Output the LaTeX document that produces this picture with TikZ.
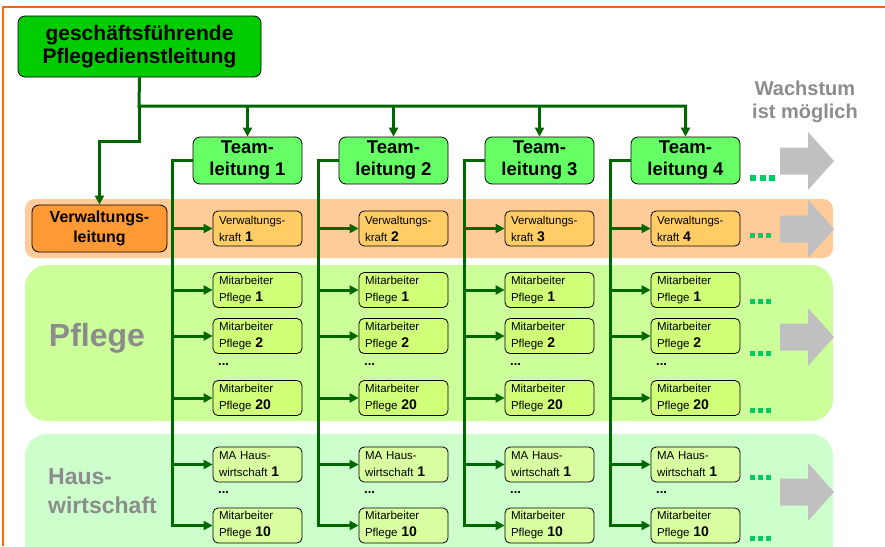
\documentclass[tikz,border=0pt]{standalone}
\usepackage{fontspec}
\setmainfont{Liberation Sans}
\usetikzlibrary{arrows.meta}

\definecolor{framecol}{RGB}{255,102,0}
\definecolor{darkline}{RGB}{0,102,0}
\definecolor{topgreen}{RGB}{0,204,0}
\definecolor{teamgreen}{RGB}{102,255,102}
\definecolor{vlorange}{RGB}{255,153,51}
\definecolor{vkorange}{RGB}{255,204,102}
\definecolor{bandorange}{RGB}{255,204,153}
\definecolor{bandpflege}{RGB}{204,255,153}
\definecolor{bandhaus}{RGB}{204,255,204}
\definecolor{pflegebox}{RGB}{208,255,120}
\definecolor{hausbox}{RGB}{216,255,160}
\definecolor{growgray}{RGB}{192,192,192}
\definecolor{labelgray}{RGB}{140,140,140}
\definecolor{dotgreen}{RGB}{0,204,102}

\newcommand{\bnum}[1]{{\fontsize{14}{17}\selectfont\bfseries #1}}

\begin{document}
\begin{tikzpicture}[x=1pt,y=-1pt]
        \tikzstyle{bigbox}=[draw=black,line width=0.8pt,rounded corners=7pt,align=center,inner sep=0pt]
        \tikzstyle{staffbox}=[draw=black,line width=0.8pt,rounded corners=5pt,align=left,text width=77pt,inner xsep=6pt,inner ysep=0pt,minimum height=35pt,font=\fontsize{11.5}{17}\selectfont]
        \tikzstyle{trunk}=[darkline,line width=3pt,-{Triangle[length=9pt,width=9pt]}]
        \tikzstyle{grouplabel}=[labelgray,font=\bfseries,inner sep=0pt]
        \tikzset{growth/.pic={\fill[growgray] (0,-13.5) -- (28,-13.5) -- (28,-29) -- (54,0) -- (28,29) -- (28,13.5) -- (0,13.5) -- cycle;},
                 moredots/.pic={\foreach \d in {0,8,16} \fill[dotgreen] (\d,-2.5) rectangle (\d+5,2.5);}}

        \useasboundingbox (0,0) rectangle (885,546);

        % bands
        \fill[bandorange,rounded corners=10pt] (25,199) rectangle (833,258);
        \fill[bandpflege,rounded corners=22pt] (25,265) rectangle (833,421);
        \fill[bandhaus,rounded corners=22pt] (25,434) rectangle (833,566);
        \draw[framecol,line width=2pt] (885,7) -- (3,7) -- (3,546);

        % group labels
        \node[grouplabel,font=\fontsize{32}{36}\selectfont\bfseries] (pflege) at (97,338) {Pflege};
        \node[grouplabel,anchor=west,align=left,font=\fontsize{23}{29}\selectfont\bfseries] (haus) at (48,491) {Haus-\\wirtschaft};
        \node[grouplabel,align=center,font=\fontsize{20}{23}\selectfont\bfseries] (wachstum) at (805,102) {Wachstum\\ist möglich};

        % growth arrows
        \foreach \y in {161,229,337,492} \pic at (780,\y) {growth};

        % top
        \node[bigbox,fill=topgreen,minimum width=243pt,minimum height=61pt,font=\fontsize{21}{23}\selectfont\bfseries] (pdl) at (139.5,46.5) {geschäftsführende\\Pflegedienstleitung};
        \node[bigbox,fill=vlorange,minimum width=135pt,minimum height=47pt,font=\fontsize{16}{20}\selectfont\bfseries] (vl) at (99.5,228.5) {Verwaltungs-\\leitung};

        \foreach \i in {1,...,4} {
            \pgfmathsetmacro{\cx}{146*(\i-1)}
            \node[bigbox,fill=teamgreen,minimum width=109pt,minimum height=47pt,font=\fontsize{18.5}{22}\selectfont\bfseries] (tl\i) at (247.5+\cx,160.5) {Team-\\leitung \i};

            \node[staffbox,fill=vkorange] (vk\i) at (257.5+\cx,228.5) {Verwaltungs-\\kraft \bnum{\i}};
            \node[staffbox,fill=pflegebox] (pa\i) at (257.5+\cx,290) {Mitarbeiter\\Pflege \bnum{1}};
            \node[staffbox,fill=pflegebox] (pb\i) at (257.5+\cx,336) {Mitarbeiter\\Pflege \bnum{2}};
            \node[staffbox,fill=pflegebox] (pc\i) at (257.5+\cx,398) {Mitarbeiter\\Pflege \bnum{20}};
            \node[staffbox,fill=hausbox] (ha\i) at (257.5+\cx,464.5) {MA Haus-\\wirtschaft \bnum{1}};
            \node[staffbox,fill=hausbox] (hb\i) at (257.5+\cx,525.5) {Mitarbeiter\\Pflege \bnum{10}};
            \node[anchor=west,inner sep=0pt,font=\fontsize{13}{13}\selectfont\bfseries] (pdots\i) at (218+\cx,365) {...};
            \node[anchor=west,inner sep=0pt,font=\fontsize{13}{13}\selectfont\bfseries] (hdots\i) at (218+\cx,493) {...};

            \draw[trunk] (tl\i.west) -- ++(-20.5,0) coordinate (t\i) |- (hb\i.west);
            \foreach \b in {vk,pa,pb,pc,ha} \draw[trunk] (t\i |- \b\i.west) -- (\b\i.west);
        }

        % from the top box
        \coordinate (bus) at (139,106);
        \draw[trunk] (pdl.south) -- (bus) -| (tl4.north);
        \foreach \i in {1,2,3} \draw[trunk] (bus -| tl\i.north) -- (tl\i.north);
        \draw[trunk] (bus) -- ++(0,35) -| (vl.north);

        % more to come
        \pic[scale=1.2] at (750,178) {moredots};
        \foreach \y in {235,301,353,410,477,538} \pic at (750,\y) {moredots};
    \end{tikzpicture}
\end{document}
